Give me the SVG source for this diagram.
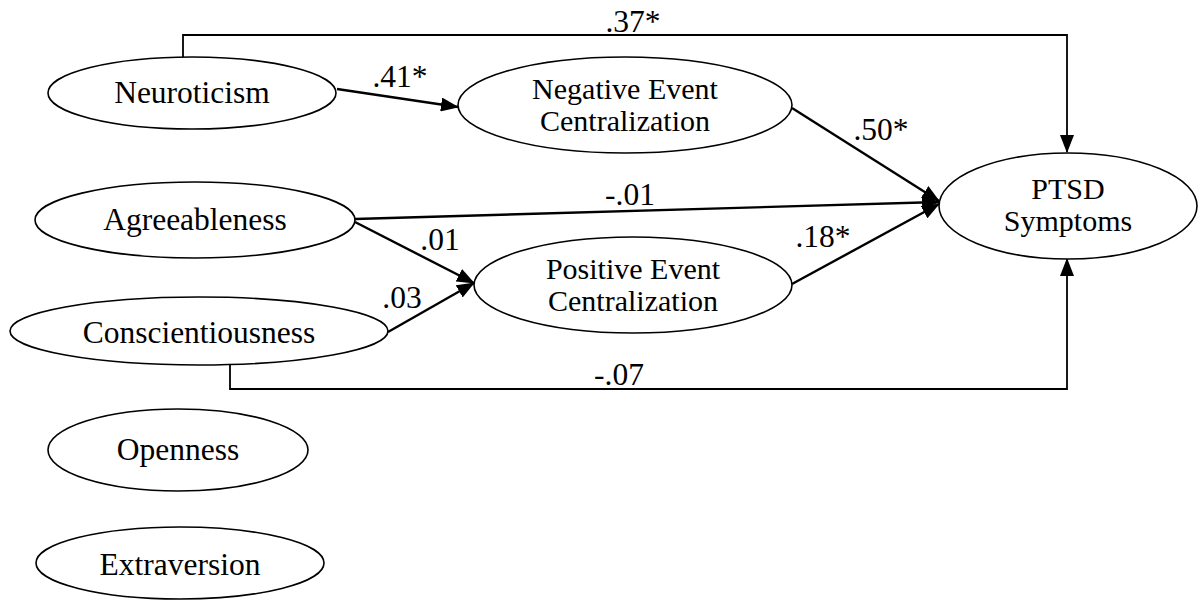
<svg xmlns="http://www.w3.org/2000/svg" width="1199" height="600" viewBox="0 0 1199 600">
<style>
.n ellipse{fill:#fff;stroke:#000;stroke-width:1.6}
text{font-family:"Liberation Serif","Times New Roman",serif;font-size:31.5px;fill:#000;text-anchor:middle}
text.two{font-size:30px}
.c path,.c line{fill:none;stroke:#000}
.thin{stroke-width:1.8}
.thick{stroke-width:2.4}
</style>
<defs>
<marker id="ah" markerUnits="userSpaceOnUse" markerWidth="18" markerHeight="14" refX="17" refY="7" orient="auto">
<path d="M0,0 L18,7 L0,14 Z" fill="#000"/>
</marker>
</defs>
<rect width="1199" height="600" fill="#fff"/>
<g class="c" id="connectors">
<path class="thin" d="M183,57 V35 H1067 V152" marker-end="url(#ah)"/>
<path class="thin" d="M230,365 V389 H1067 V259" marker-end="url(#ah)"/>
<line class="thick" x1="337" y1="89" x2="458" y2="107" marker-end="url(#ah)"/>
<line class="thick" x1="792" y1="108" x2="939" y2="201" marker-end="url(#ah)"/>
<line class="thick" x1="355" y1="219" x2="939" y2="202" marker-end="url(#ah)"/>
<line class="thick" x1="355" y1="222" x2="474" y2="283" marker-end="url(#ah)"/>
<line class="thick" x1="388" y1="332" x2="474" y2="283" marker-end="url(#ah)"/>
<line class="thick" x1="792" y1="284" x2="939" y2="204" marker-end="url(#ah)"/>
<text x="633" y="32">.37*</text>
<text x="400" y="87">.41*</text>
<text x="881" y="140">.50*</text>
<text x="630" y="205">-.01</text>
<text x="440" y="250">.01</text>
<text x="402" y="308">.03</text>
<text x="823" y="247">.18*</text>
<text x="619" y="385">-.07</text>
</g>
<g class="n" id="neuroticism"><ellipse cx="192" cy="93" rx="144" ry="36"/><text x="192" y="103">Neuroticism</text></g>
<g class="n" id="negative"><ellipse cx="625" cy="105" rx="167" ry="48"/><text class="two" x="625" y="98.5">Negative Event</text><text class="two" x="625" y="131">Centralization</text></g>
<g class="n" id="ptsd"><ellipse cx="1068" cy="206" rx="129" ry="53"/><text class="two" x="1068" y="198.5">PTSD</text><text class="two" x="1068" y="231">Symptoms</text></g>
<g class="n" id="agreeableness"><ellipse cx="195" cy="220" rx="160" ry="38"/><text x="195" y="230">Agreeableness</text></g>
<g class="n" id="positive"><ellipse cx="633" cy="285" rx="159" ry="48"/><text class="two" x="633" y="278.5">Positive Event</text><text class="two" x="633" y="311">Centralization</text></g>
<g class="n" id="conscientiousness"><ellipse cx="199" cy="331" rx="189" ry="34"/><text x="199" y="343">Conscientiousness</text></g>
<g class="n" id="openness"><ellipse cx="178" cy="450" rx="130" ry="41"/><text x="178" y="460">Openness</text></g>
<g class="n" id="extraversion"><ellipse cx="180" cy="563" rx="144" ry="36"/><text x="180" y="575">Extraversion</text></g>
</svg>
